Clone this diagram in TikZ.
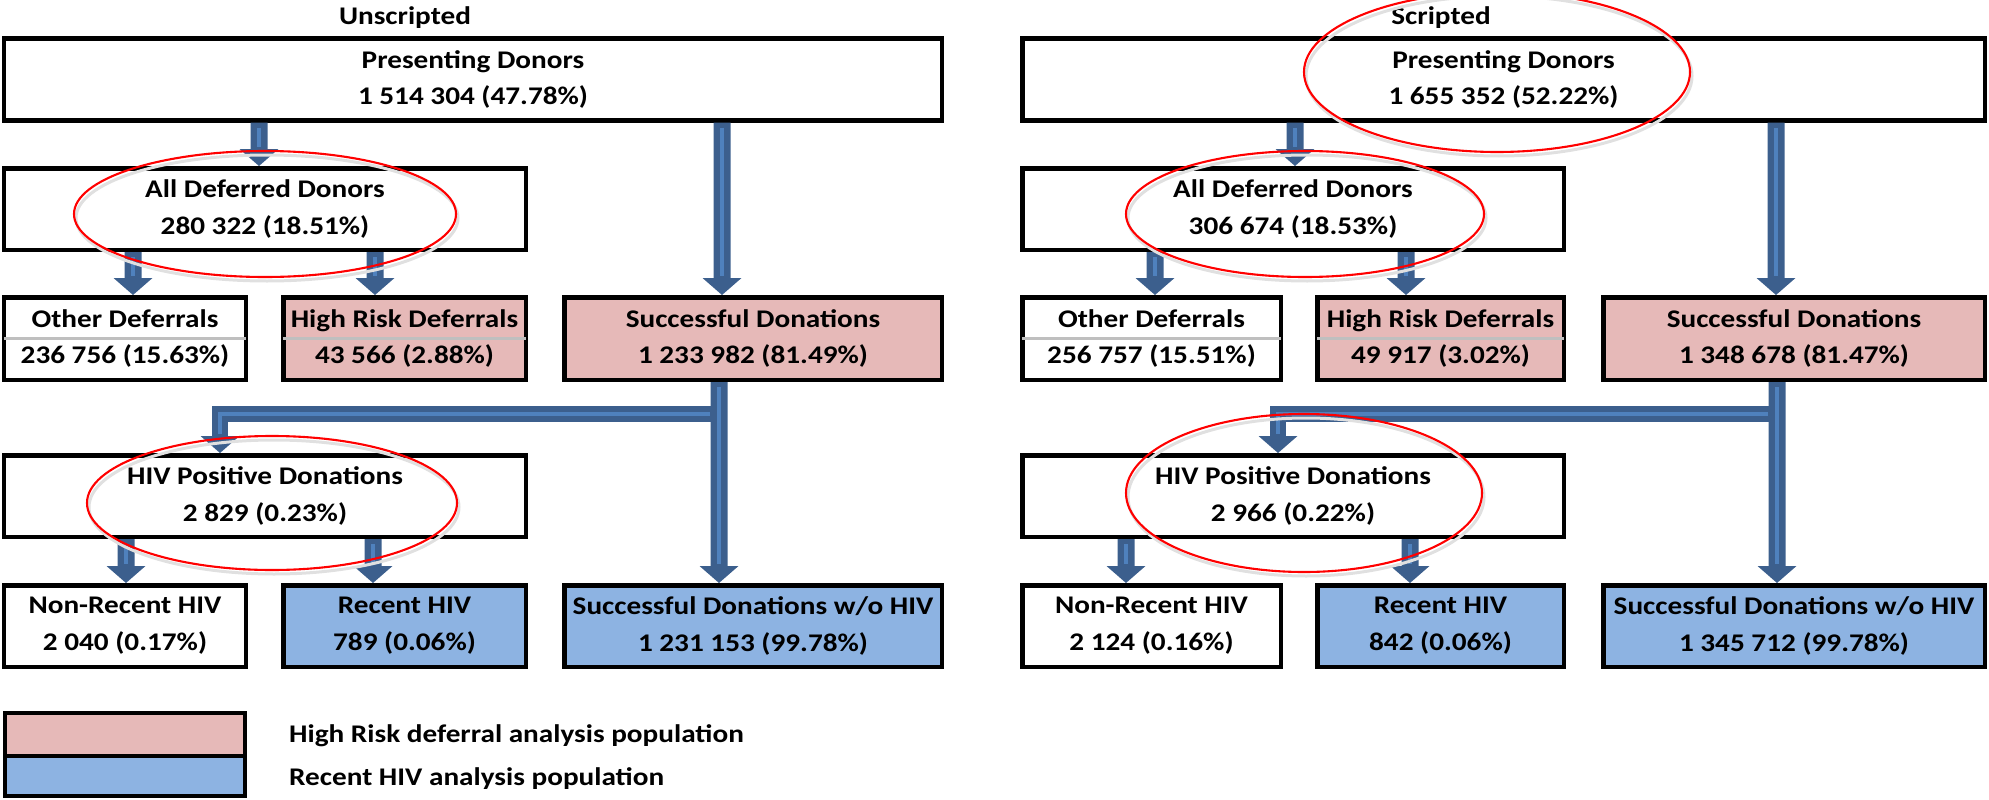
\documentclass[tikz,border=0pt]{standalone}
\usepackage{fontspec}
\setmainfont[FakeStretch=1.15]{Carlito}
\usetikzlibrary{calc}
\definecolor{pinkfill}{HTML}{E6B9B8}
\definecolor{bluefill}{HTML}{8DB3E2}
\definecolor{arrdark}{HTML}{3C5F8D}
\definecolor{arrlight}{HTML}{4F81BD}
\definecolor{sepgray}{HTML}{BFBFBF}
\newcommand\fdown[2]{%
  \fill[arrdark] ([xshift=-8.5bp]#1) -- ([xshift=8.5bp]#1) -- ([xshift=8.5bp,yshift=17bp]#2) -- ([xshift=19.5bp,yshift=17bp]#2) -- (#2) -- ([xshift=-19.5bp,yshift=17bp]#2) -- ([xshift=-8.5bp,yshift=17bp]#2) -- cycle;
  \draw[arrlight, line width=4.5bp] ([yshift=-5bp]#1) -- ([yshift=19bp]#2);
}
\newcommand\felbow[3]{%
  \draw[arrdark, line width=16bp] (#1) -- (#2) -- ([yshift=17bp]#3);
  \fill[arrdark] ([xshift=-19.5bp,yshift=17bp]#3) -- ([xshift=19.5bp,yshift=17bp]#3) -- (#3) -- cycle;
  \draw[arrlight, line width=4.5bp] ([xshift=-9bp]#1) -- (#2) -- ([yshift=19bp]#3);
}
\begin{document}
\begin{tikzpicture}[x=1bp,y=-1bp,
  txt/.style={font=\bfseries\fontsize{25.5}{37}\selectfont, text=black},
  box/.style={txt, draw=black, line width=4.5bp, fill=white, inner sep=0pt, align=center},
  wide/.style={minimum width=#1},
  tall/.style={minimum height=81.5bp},
  sepline/.style={draw=sepgray, line width=2.8bp, shorten <=2.25bp, shorten >=2.25bp},
  redell/.style={draw=red, line width=2.1bp},
  ellshadow/.style={draw=black!12, line width=3bp},
  title/.style={txt, inner sep=0pt},
  lgbox/.style={draw=black, line width=4.5bp, inner sep=0pt, minimum width=239.5bp},
  lgtext/.style={txt, inner sep=0pt, anchor=west}
]
\useasboundingbox (0,0) rectangle (1989,800);

% ---------------- Unscripted ----------------
\node[title] (tu) at (405,18) {Unscripted};
\node[box, wide=937.5bp, tall] (pu) at (473,79.5) {Presenting Donors\\1 514 304 (47.78\%)};
\node[box, wide=521.5bp, tall] (au) at (265,209) {All Deferred Donors\\280 322 (18.51\%)};
\node[box, wide=241.5bp, tall, minimum height=82.5bp] (ou) at (125,338.5) {Other Deferrals\\236 756 (15.63\%)};
\node[box, wide=242.5bp, tall, minimum height=82.5bp, fill=pinkfill] (hu) at (404.5,338.5) {High Risk Deferrals\\43 566 (2.88\%)};
\node[box, wide=377.5bp, tall, minimum height=82.5bp, fill=pinkfill] (su) at (753,338.5) {Successful Donations\\1 233 982 (81.49\%)};
\node[box, wide=521.5bp, tall] (vu) at (265,496) {HIV Positive Donations\\2 829 (0.23\%)};
\node[box, wide=241.5bp, tall] (nu) at (125,626) {Non-Recent HIV\\2 040 (0.17\%)};
\node[box, wide=242.5bp, tall, fill=bluefill] (ru) at (404.5,626) {Recent HIV\\789 (0.06\%)};
\node[box, wide=377.5bp, tall, fill=bluefill] (wu) at (753,626) {Successful Donations w/o HIV\\1 231 153 (99.78\%)};
\draw[sepline] (ou.west) -- (ou.east);
\draw[sepline] (hu.west) -- (hu.east);

% ---------------- Scripted ----------------
\node[title] (ts) at (1441,18) {Scripted};
\node[box, wide=962.5bp, tall] (ps) at (1503.5,79.5) {Presenting Donors\\1 655 352 (52.22\%)};
\node[box, wide=541.5bp, tall] (as) at (1293,209) {All Deferred Donors\\306 674 (18.53\%)};
\node[box, wide=258.5bp, tall, minimum height=82.5bp] (os) at (1151.5,338.5) {Other Deferrals\\256 757 (15.51\%)};
\node[box, wide=246.5bp, tall, minimum height=82.5bp, fill=pinkfill] (hs) at (1440.5,338.5) {High Risk Deferrals\\49 917 (3.02\%)};
\node[box, wide=381.5bp, tall, minimum height=82.5bp, fill=pinkfill] (ss) at (1794,338.5) {Successful Donations\\1 348 678 (81.47\%)};
\node[box, wide=541.5bp, tall] (vs) at (1293,496) {HIV Positive Donations\\2 966 (0.22\%)};
\node[box, wide=258.5bp, tall] (ns) at (1151.5,626) {Non-Recent HIV\\2 124 (0.16\%)};
\node[box, wide=246.5bp, tall, fill=bluefill] (rs) at (1440.5,626) {Recent HIV\\842 (0.06\%)};
\node[box, wide=381.5bp, tall, fill=bluefill] (ws) at (1794,626) {Successful Donations w/o HIV\\1 345 712 (99.78\%)};
\draw[sepline] (os.west) -- (os.east);
\draw[sepline] (hs.west) -- (hs.east);

% ---------------- arrows (unscripted) ----------------
\coordinate (u1a) at (259,0 |- pu.south); \coordinate (u1b) at (259,0 |- au.north);
\coordinate (u2a) at (722,0 |- pu.south); \coordinate (u2b) at (722,0 |- su.north);
\coordinate (u3a) at (133,0 |- au.south); \coordinate (u3b) at (133,0 |- ou.north);
\coordinate (u4a) at (375,0 |- au.south); \coordinate (u4b) at (375,0 |- hu.north);
\coordinate (u5a) at (719,0 |- su.south); \coordinate (u5b) at (719,0 |- wu.north);
\coordinate (u6a) at (126,0 |- vu.south); \coordinate (u6b) at (126,0 |- nu.north);
\coordinate (u7a) at (373,0 |- vu.south); \coordinate (u7b) at (373,0 |- ru.north);
\coordinate (ubr) at (719,414); \coordinate (ucn) at (220,414); \coordinate (utp) at (220,0 |- vu.north);
\fdown{u1a}{u1b}
\fdown{u2a}{u2b}
\fdown{u3a}{u3b}
\fdown{u4a}{u4b}
\felbow{ubr}{ucn}{utp}
\fdown{u5a}{u5b}
\fdown{u6a}{u6b}
\fdown{u7a}{u7b}

% ---------------- arrows (scripted) ----------------
\coordinate (s1a) at (1295,0 |- ps.south); \coordinate (s1b) at (1295,0 |- as.north);
\coordinate (s2a) at (1776,0 |- ps.south); \coordinate (s2b) at (1776,0 |- ss.north);
\coordinate (s3a) at (1155,0 |- as.south); \coordinate (s3b) at (1155,0 |- os.north);
\coordinate (s4a) at (1406,0 |- as.south); \coordinate (s4b) at (1406,0 |- hs.north);
\coordinate (s5a) at (1777,0 |- ss.south); \coordinate (s5b) at (1777,0 |- ws.north);
\coordinate (s6a) at (1126,0 |- vs.south); \coordinate (s6b) at (1126,0 |- ns.north);
\coordinate (s7a) at (1410,0 |- vs.south); \coordinate (s7b) at (1410,0 |- rs.north);
\coordinate (sbr) at (1777,414); \coordinate (scn) at (1278,414); \coordinate (stp) at (1278,0 |- vs.north);
\fdown{s1a}{s1b}
\fdown{s2a}{s2b}
\fdown{s3a}{s3b}
\fdown{s4a}{s4b}
\felbow{sbr}{scn}{stp}
\fdown{s5a}{s5b}
\fdown{s6a}{s6b}
\fdown{s7a}{s7b}

% ---------------- red ellipses ----------------
\draw[ellshadow] (267,218) ellipse [x radius=191, y radius=63];
\draw[redell] (265,214) ellipse [x radius=191, y radius=63];
\draw[ellshadow] (274,507) ellipse [x radius=185, y radius=67];
\draw[redell] (272,503) ellipse [x radius=185, y radius=67];
\draw[ellshadow] (1499,76) ellipse [x radius=193, y radius=80];
\draw[redell] (1497,72) ellipse [x radius=193, y radius=80];
\draw[ellshadow] (1307,218) ellipse [x radius=179, y radius=63];
\draw[redell] (1305,214) ellipse [x radius=179, y radius=63];
\draw[ellshadow] (1306,497) ellipse [x radius=178, y radius=79];
\draw[redell] (1304,493) ellipse [x radius=178, y radius=79];

% ---------------- legend ----------------
\node[lgbox, fill=pinkfill, minimum height=42.75bp] (l1) at (125,734.6) {};
\node[lgbox, fill=bluefill, minimum height=39.75bp] (l2) at (125,775.9) {};
\node[lgtext] (t1) at (289,736) {High Risk deferral analysis population};
\node[lgtext] (t2) at (289,779) {Recent HIV analysis population};
\end{tikzpicture}
\end{document}
